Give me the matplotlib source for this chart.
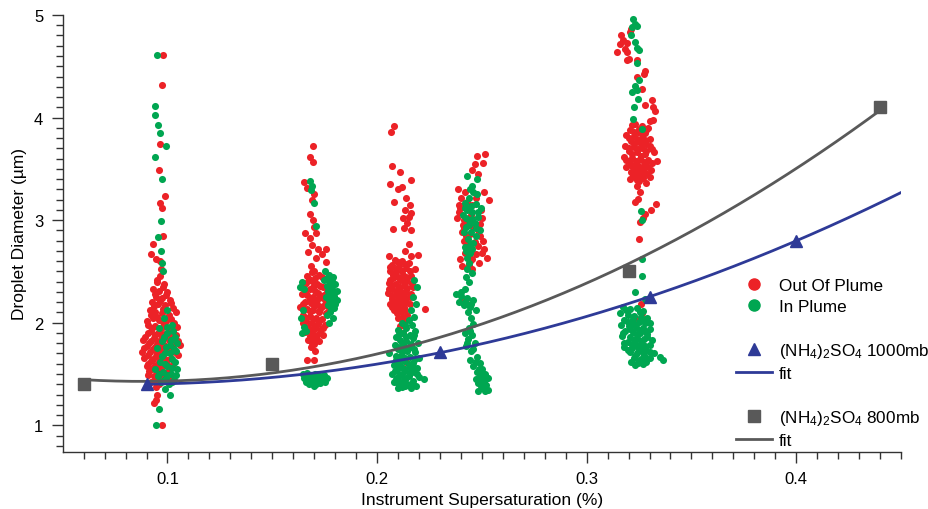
import matplotlib
matplotlib.use('Agg')
import matplotlib.pyplot as plt
from matplotlib.lines import Line2D
import numpy as np

plt.rcParams['font.family'] = ['Liberation Sans', 'DejaVu Sans']
plt.rcParams['mathtext.fontset'] = 'custom'
plt.rcParams['mathtext.rm'] = 'Liberation Sans'
plt.rcParams['mathtext.it'] = 'Liberation Sans:italic'
plt.rcParams['mathtext.bf'] = 'Liberation Sans:bold'

RED   = '#EC2227'
GREEN = '#00A651'
BLUE  = '#2E3A97'
GRAY  = '#595959'
AXC   = '#333333'

# ── droplet data, (supersaturation %, diameter um) ──
out_s010 = [(0.0980,4.61),(0.0976,4.32),(0.0965,3.74),(0.0959,3.49),(0.0989,3.24),(0.0962,3.17),
            (0.0975,3.12),(0.0978,2.85),(0.0929,2.77),(0.0921,2.67),(0.0945,2.62),(0.0962,2.60),
            (0.0968,2.52),(0.0965,2.46),(0.0948,2.40),(0.0985,2.38),(0.0930,2.33),(0.0960,2.31),
            (0.1000,2.30),(0.0945,2.25),(0.0975,2.24),(0.1010,2.22),(0.0925,2.20),(0.0955,2.18),
            (0.0990,2.17),(0.1025,2.14),(0.0915,2.12),(0.0942,2.10),(0.0972,2.09),(0.1005,2.08),
            (0.0930,2.05),(0.0960,2.03),(0.0995,2.02),(0.1030,2.00),(0.0905,1.98),(0.0940,1.97),
            (0.0978,1.96),(0.1012,1.94),(0.0920,1.92),(0.0955,1.90),(0.0990,1.89),(0.1040,1.88),
            (0.0895,1.86),(0.0935,1.85),(0.0968,1.84),(0.1005,1.83),(0.1050,1.82),(0.0912,1.80),
            (0.0948,1.79),(0.0982,1.78),(0.1022,1.77),(0.0888,1.75),(0.0930,1.74),(0.0962,1.73),
            (0.0998,1.72),(0.1035,1.71),(0.0905,1.69),(0.0945,1.68),(0.0978,1.67),(0.1015,1.66),
            (0.0920,1.63),(0.0958,1.62),(0.0992,1.61),(0.1028,1.60),(0.0935,1.57),(0.0970,1.56),
            (0.1005,1.55),(0.0912,1.53),(0.0950,1.51),(0.0985,1.50),(0.0940,1.46),(0.0975,1.44),
            (0.1010,1.47),(0.0960,1.40),(0.0920,1.42),(0.0945,1.37),(0.0952,1.30),(0.0944,1.25),
            (0.0935,1.22),(0.0973,1.00),
            (0.0950,2.42),(0.0980,2.35),(0.0940,2.28),(0.0992,2.27),(0.0965,2.21),(0.1018,2.19),
            (0.0935,2.16),(0.0980,2.13),(0.1040,2.10),(0.0920,2.08),(0.0950,2.06),(0.1015,2.04),
            (0.0978,2.01),(0.0900,2.02),(0.1045,1.96),(0.0925,1.95),(0.0965,1.93),(0.1025,1.91),
            (0.0908,1.90),(0.0940,1.88),(0.0975,1.87),(0.1015,1.86),(0.0885,1.83),(0.0920,1.82),
            (0.0955,1.81),(0.1030,1.80),(0.1060,1.78),(0.0900,1.77),(0.0938,1.76),(0.0970,1.76),
            (0.1008,1.74),(0.0878,1.71),(0.0918,1.71),(0.0952,1.70),(0.1048,1.69),(0.0890,1.66),
            (0.0932,1.65),(0.0965,1.65),(0.1000,1.64),(0.0905,1.60),(0.0945,1.59),(0.0980,1.58),
            (0.0925,1.55),(0.0960,1.53),(0.1000,1.52),(0.0905,1.49),(0.0935,1.48),(0.0968,1.47),
            (0.0900,1.58),(0.0948,1.43)]
in_s010 = [(0.0948,4.61),(0.0938,4.11),(0.0941,4.02),(0.0954,3.93),(0.0963,3.85),(0.0995,3.72),
           (0.0940,3.62),(0.0975,3.40),(0.0970,2.99),(0.0954,2.84),(0.0970,2.70),(0.0972,2.58),
           (0.0980,2.50),(0.1000,2.12),(0.0985,2.05),(0.1020,1.98),(0.0960,1.95),(0.1000,1.90),
           (0.1035,1.86),(0.0975,1.82),(0.1010,1.78),(0.0950,1.75),(0.1040,1.72),(0.0990,1.70),
           (0.1020,1.65),(0.0965,1.62),(0.1000,1.58),(0.1045,1.55),(0.0940,1.55),(0.0980,1.52),
           (0.1015,1.50),(0.0955,1.48),(0.0995,1.46),(0.1030,1.44),(0.0970,1.42),(0.1005,1.40),
           (0.0990,1.35),(0.1010,1.30),(0.0960,1.16),(0.0944,1.00),
           (0.1000,1.96),(0.1025,1.92),(0.0985,1.86),(0.1015,1.83),(0.1045,1.80),(0.0995,1.76),
           (0.1030,1.74),(0.0975,1.68),(0.1010,1.70),(0.1035,1.62),(0.0990,1.60),(0.1020,1.56),
           (0.0960,1.50),(0.1000,1.49),(0.1040,1.49),(0.0985,1.44),(0.1020,1.42)]

out_s017 = [(0.1693,3.72),(0.1680,3.62),(0.1694,3.57),(0.1651,3.37),(0.1665,3.31),(0.1700,3.25),
            (0.1690,3.20),(0.1682,3.06),(0.1693,3.00),(0.1700,2.93),(0.1708,2.87),(0.1655,2.87),
            (0.1680,2.83),(0.1690,2.76),(0.1718,2.72),(0.1755,2.72),(0.1672,2.69),(0.1735,2.67),
            (0.1710,2.63),(0.1755,2.59),(0.1685,2.55),(0.1700,2.50),(0.1725,2.47),(0.1668,2.46),
            (0.1745,2.43),(0.1690,2.41),(0.1715,2.38),(0.1650,2.37),(0.1740,2.35),(0.1680,2.33),
            (0.1705,2.31),(0.1760,2.30),(0.1640,2.28),(0.1668,2.27),(0.1695,2.25),(0.1725,2.24),
            (0.1750,2.22),(0.1655,2.20),(0.1685,2.19),(0.1712,2.18),(0.1740,2.16),(0.1632,2.15),
            (0.1770,2.14),(0.1665,2.13),(0.1695,2.12),(0.1722,2.10),(0.1648,2.08),(0.1680,2.07),
            (0.1708,2.05),(0.1738,2.04),(0.1660,2.02),(0.1690,2.00),(0.1720,1.99),(0.1750,1.98),
            (0.1672,1.96),(0.1700,1.94),(0.1730,1.93),(0.1655,1.91),(0.1685,1.89),(0.1715,1.88),
            (0.1695,1.85),(0.1670,1.83),(0.1725,1.82),(0.1700,1.79),(0.1685,1.76),(0.1706,1.72),
            (0.1667,1.64),(0.1699,1.64),
            (0.1688,2.49),(0.1735,2.45),(0.1675,2.43),(0.1705,2.44),(0.1660,2.39),(0.1728,2.36),
            (0.1695,2.35),(0.1655,2.31),(0.1718,2.29),(0.1745,2.27),(0.1680,2.23),(0.1710,2.21),
            (0.1765,2.20),(0.1645,2.18),(0.1700,2.16),(0.1728,2.13),(0.1680,2.11),(0.1755,2.09),
            (0.1662,2.05),(0.1695,2.04),(0.1725,2.02),(0.1645,2.00),(0.1705,1.97),(0.1740,1.95),
            (0.1665,1.93),(0.1690,1.92),(0.1710,1.84),(0.1680,1.87),(0.1740,1.88),(0.1690,1.80)]
in_s017 = [(0.1679,3.38),(0.1690,3.33),(0.1685,3.29),(0.1700,3.17),(0.1710,2.94),(0.1750,2.50),
           (0.1770,2.47),(0.1790,2.45),(0.1745,2.42),(0.1775,2.40),(0.1800,2.38),(0.1760,2.36),
           (0.1785,2.33),(0.1808,2.31),(0.1770,2.29),(0.1795,2.26),(0.1755,2.25),(0.1810,2.22),
           (0.1780,2.20),(0.1765,2.17),(0.1795,2.14),(0.1775,2.10),(0.1790,2.05),(0.1770,2.00),
           (0.1640,2.40),(0.1630,2.35),(0.1650,2.33),(0.1645,2.12),(0.1635,2.05),(0.1650,1.96),
           (0.1640,1.90),(0.1660,1.92),(0.1645,1.50),(0.1665,1.51),(0.1685,1.49),(0.1705,1.50),
           (0.1725,1.48),(0.1745,1.49),(0.1760,1.46),(0.1650,1.46),(0.1672,1.45),(0.1695,1.44),
           (0.1715,1.45),(0.1738,1.43),(0.1660,1.42),(0.1685,1.41),(0.1708,1.40),(0.1730,1.41),
           (0.1752,1.42),(0.1698,1.38),
           (0.1760,2.44),(0.1785,2.41),(0.1780,2.36),(0.1795,2.30),(0.1765,2.31),(0.1785,2.24),
           (0.1770,2.22),(0.1800,2.18),(0.1780,2.14),(0.1760,2.08),(0.1655,1.48),(0.1690,1.47),
           (0.1720,1.50),(0.1740,1.45),(0.1675,1.40),(0.1720,1.43)]

out_s021 = [(0.2080,3.92),(0.2065,3.86),(0.2071,3.53),(0.2110,3.47),(0.2163,3.39),(0.2060,3.35),
            (0.2100,3.30),(0.2120,3.32),(0.2083,3.18),(0.2140,3.22),(0.2155,3.15),(0.2135,3.10),
            (0.2162,3.07),(0.2122,3.02),(0.2150,3.03),(0.2145,2.97),(0.2128,2.92),(0.2078,2.91),
            (0.2162,2.90),(0.2150,2.77),(0.2135,2.70),(0.2195,2.66),(0.2058,2.65),(0.2160,2.65),
            (0.2085,2.61),(0.2120,2.60),(0.2150,2.58),(0.2070,2.56),(0.2105,2.55),(0.2138,2.53),
            (0.2180,2.52),(0.2060,2.50),(0.2092,2.49),(0.2125,2.47),(0.2160,2.46),(0.2075,2.44),
            (0.2110,2.42),(0.2145,2.41),(0.2055,2.39),(0.2090,2.38),(0.2128,2.36),(0.2170,2.35),
            (0.2070,2.33),(0.2105,2.32),(0.2140,2.30),(0.2050,2.29),(0.2088,2.28),(0.2120,2.26),
            (0.2155,2.25),(0.2072,2.23),(0.2108,2.22),(0.2140,2.20),(0.2060,2.18),(0.2095,2.17),
            (0.2130,2.15),(0.2230,2.13),(0.2080,2.12),(0.2115,2.10),(0.2145,2.08),(0.2100,2.05),
            (0.2130,2.02),(0.2110,1.97),(0.2125,1.90),(0.2140,1.62),
            (0.2100,2.59),(0.2135,2.57),(0.2060,2.54),(0.2090,2.52),(0.2158,2.50),(0.2118,2.50),
            (0.2075,2.47),(0.2140,2.45),(0.2100,2.45),(0.2060,2.42),(0.2128,2.40),(0.2165,2.38),
            (0.2072,2.37),(0.2108,2.35),(0.2145,2.34),(0.2055,2.33),(0.2088,2.31),(0.2122,2.29),
            (0.2160,2.28),(0.2070,2.26),(0.2102,2.25),(0.2138,2.24),(0.2085,2.20),(0.2120,2.19),
            (0.2155,2.18),(0.2070,2.15),(0.2100,2.14),(0.2135,2.12),(0.2095,2.09),(0.2125,2.06)]
in_s021 = [(0.2175,2.42),(0.2190,2.35),(0.2170,2.25),(0.2185,2.18),(0.2160,2.12),(0.2175,2.06),
           (0.2150,2.03),(0.2120,2.00),(0.2165,1.98),(0.2140,1.95),(0.2100,1.93),(0.2180,1.92),
           (0.2125,1.90),(0.2155,1.88),(0.2090,1.86),(0.2170,1.85),(0.2110,1.83),(0.2140,1.82),
           (0.2195,1.80),(0.2085,1.78),(0.2125,1.77),(0.2160,1.76),(0.2100,1.74),(0.2145,1.72),
           (0.2180,1.71),(0.2058,1.70),(0.2115,1.68),(0.2155,1.67),(0.2200,1.66),(0.2090,1.64),
           (0.2130,1.63),(0.2170,1.61),(0.2080,1.59),(0.2110,1.58),(0.2150,1.57),(0.2190,1.56),
           (0.2095,1.54),(0.2135,1.53),(0.2175,1.52),(0.2070,1.50),(0.2110,1.49),(0.2150,1.48),
           (0.2200,1.47),(0.2090,1.45),(0.2130,1.44),(0.2170,1.43),(0.2100,1.41),(0.2145,1.40),
           (0.2120,1.37),(0.2160,1.36),(0.2225,1.45),
           (0.2135,1.98),(0.2105,1.89),(0.2140,1.86),(0.2175,1.88),(0.2120,1.80),(0.2160,1.79),
           (0.2095,1.76),(0.2140,1.75),(0.2175,1.74),(0.2120,1.71),(0.2090,1.68),(0.2135,1.66),
           (0.2180,1.65),(0.2100,1.61),(0.2150,1.60),(0.2125,1.56),(0.2170,1.55),(0.2085,1.53),
           (0.2155,1.51),(0.2120,1.50),(0.2190,1.50),(0.2100,1.47),(0.2140,1.46),(0.2080,1.42),
           (0.2120,1.42),(0.2160,1.40),(0.2185,1.38),(0.2135,1.38),(0.2100,1.36)]

out_s025 = [(0.2513,3.64),(0.2476,3.63),(0.2467,3.55),(0.2505,3.56),(0.2452,3.49),(0.2480,3.45),
            (0.2386,3.30),(0.2420,3.27),(0.2510,3.27),(0.2535,3.20),(0.2390,3.15),(0.2430,3.18),
            (0.2470,3.22),(0.2390,3.08),(0.2382,3.02),(0.2498,3.10),(0.2420,2.98),(0.2490,2.96),
            (0.2460,2.93),(0.2405,2.88),(0.2445,2.86),(0.2492,2.85),(0.2415,2.80),(0.2468,2.79),
            (0.2510,2.72),(0.2435,2.71),(0.2525,2.63),(0.2420,2.68),(0.2470,2.67),(0.2452,2.52),
            (0.2405,2.55),(0.2445,2.60),(0.2485,2.58),(0.2410,2.22),(0.2430,2.18),(0.2395,3.12),
            (0.2450,3.05),(0.2500,3.02),(0.2415,2.92),(0.2480,2.75),
            (0.2400,3.22),(0.2455,3.15),(0.2410,2.95),(0.2480,2.90),(0.2430,2.76),(0.2500,2.68),
            (0.2455,2.62),(0.2395,2.62),(0.2440,2.56),(0.2415,3.00),(0.2505,2.80),(0.2425,2.85)]
in_s025 = [(0.2429,3.43),(0.2476,3.40),(0.2452,3.33),(0.2460,3.27),(0.2440,3.22),(0.2418,3.17),
           (0.2470,3.16),(0.2495,3.12),(0.2430,3.10),(0.2455,3.08),(0.2410,3.05),(0.2480,3.03),
           (0.2440,3.00),(0.2465,2.97),(0.2425,2.93),(0.2490,2.90),(0.2450,2.88),(0.2435,2.82),
           (0.2460,2.78),(0.2420,2.74),(0.2445,2.68),(0.2430,2.63),(0.2455,2.48),(0.2425,2.45),
           (0.2440,2.40),(0.2420,2.33),(0.2375,2.28),(0.2400,2.26),(0.2430,2.24),(0.2460,2.22),
           (0.2390,2.20),(0.2415,2.17),(0.2445,2.15),(0.2470,2.12),(0.2450,2.05),(0.2460,1.99),
           (0.2440,1.95),(0.2420,1.90),(0.2455,1.88),(0.2435,1.84),(0.2465,1.80),(0.2425,1.77),
           (0.2450,1.72),(0.2475,1.67),(0.2445,1.64),(0.2490,1.61),(0.2460,1.58),(0.2500,1.55),
           (0.2475,1.52),(0.2515,1.50),(0.2490,1.47),(0.2530,1.46),(0.2505,1.43),(0.2480,1.41),
           (0.2520,1.39),(0.2498,1.36),(0.2530,1.34),(0.2480,1.33),
           (0.2445,3.30),(0.2475,3.25),(0.2420,3.12),(0.2450,3.14),(0.2480,3.08),(0.2425,3.02),
           (0.2455,3.01),(0.2470,2.92),(0.2440,2.95),(0.2415,2.88),(0.2470,2.85),(0.2445,2.76),
           (0.2425,2.70),(0.2455,2.72),(0.2440,2.58),(0.2430,2.52),(0.2420,2.20),(0.2400,2.30),
           (0.2450,2.18),(0.2435,2.10),(0.2445,1.92),(0.2430,1.80),(0.2460,1.74),(0.2470,1.62),
           (0.2485,1.55),(0.2470,1.45),(0.2510,1.42),(0.2495,1.50),(0.2520,1.47),(0.2505,1.38),
           (0.2515,1.33)]

out_s033 = [(0.3211,4.86),(0.3207,4.83),(0.3166,4.80),(0.3175,4.76),(0.3158,4.72),(0.3192,4.73),
            (0.3181,4.67),(0.3146,4.64),(0.3192,4.64),(0.3204,4.57),(0.3192,4.56),(0.3240,4.56),
            (0.3277,4.45),(0.3272,4.42),(0.3240,4.40),(0.3266,4.28),(0.3312,4.17),(0.3279,4.12),
            (0.3317,4.10),(0.3325,4.06),(0.3317,3.98),(0.3300,3.97),(0.3230,3.94),(0.3262,3.92),
            (0.3295,3.90),(0.3205,3.88),(0.3245,3.86),(0.3280,3.85),(0.3190,3.83),(0.3225,3.82),
            (0.3265,3.80),(0.3300,3.79),(0.3210,3.77),(0.3248,3.76),(0.3285,3.74),(0.3185,3.72),
            (0.3228,3.71),(0.3265,3.70),(0.3310,3.69),(0.3200,3.67),(0.3240,3.66),(0.3278,3.64),
            (0.3180,3.62),(0.3218,3.61),(0.3255,3.60),(0.3295,3.59),(0.3335,3.58),(0.3205,3.56),
            (0.3242,3.55),(0.3280,3.54),(0.3190,3.52),(0.3228,3.51),(0.3265,3.50),(0.3305,3.49),
            (0.3212,3.47),(0.3250,3.46),(0.3290,3.45),(0.3230,3.42),(0.3268,3.41),(0.3205,3.40),
            (0.3250,3.38),(0.3285,3.36),(0.3240,3.33),(0.3255,3.27),(0.3245,3.21),(0.3230,3.18),
            (0.3333,3.16),(0.3308,3.10),(0.3280,3.06),(0.3270,3.02),(0.3255,2.98),(0.3250,2.82),
            (0.3259,2.18),(0.3265,2.09),(0.3233,2.05),
            (0.3215,3.93),(0.3250,3.89),(0.3285,3.88),(0.3225,3.86),(0.3265,3.84),(0.3200,3.80),
            (0.3240,3.79),(0.3280,3.78),(0.3225,3.74),(0.3262,3.73),(0.3300,3.72),(0.3200,3.70),
            (0.3245,3.69),(0.3285,3.67),(0.3320,3.66),(0.3215,3.64),(0.3258,3.63),(0.3190,3.59),
            (0.3235,3.58),(0.3272,3.57),(0.3310,3.56),(0.3218,3.53),(0.3255,3.52),(0.3295,3.52),
            (0.3240,3.48),(0.3275,3.47),(0.3220,3.44),(0.3260,3.43),(0.3300,3.42),(0.3240,3.39)]
in_s033 = [(0.3222,4.96),(0.3230,4.91),(0.3216,4.88),(0.3238,4.89),(0.3211,4.80),(0.3229,4.74),
           (0.3240,4.68),(0.3250,4.66),(0.3238,4.53),(0.3250,4.37),(0.3230,4.31),(0.3240,4.27),
           (0.3216,4.25),(0.3243,4.18),(0.3228,4.10),(0.3220,3.99),(0.3262,3.89),(0.3259,3.09),
           (0.3262,3.00),(0.3264,2.62),(0.3265,2.46),(0.3233,2.30),(0.3279,2.23),(0.3175,2.15),
           (0.3205,2.13),(0.3240,2.14),(0.3270,2.11),(0.3160,2.09),(0.3195,2.08),(0.3225,2.07),
           (0.3260,2.06),(0.3290,2.05),(0.3180,2.03),(0.3215,2.02),(0.3248,2.01),(0.3280,2.00),
           (0.3165,1.98),(0.3200,1.97),(0.3235,1.96),(0.3268,1.95),(0.3300,1.94),(0.3185,1.92),
           (0.3220,1.91),(0.3255,1.90),(0.3290,1.89),(0.3170,1.87),(0.3205,1.86),(0.3240,1.85),
           (0.3275,1.84),(0.3310,1.83),(0.3195,1.81),(0.3230,1.80),(0.3265,1.79),(0.3300,1.78),
           (0.3180,1.76),(0.3215,1.75),(0.3250,1.74),(0.3285,1.73),(0.3205,1.71),(0.3240,1.70),
           (0.3275,1.69),(0.3320,1.70),(0.3225,1.66),(0.3260,1.65),(0.3300,1.66),(0.3350,1.67),
           (0.3210,1.62),(0.3245,1.61),(0.3285,1.62),(0.3230,1.59),(0.3365,1.64),
           (0.3190,2.12),(0.3255,2.10),(0.3220,2.04),(0.3265,2.03),(0.3195,2.01),(0.3300,2.00),
           (0.3230,1.98),(0.3250,1.93),(0.3205,1.94),(0.3280,1.92),(0.3175,1.90),(0.3240,1.88),
           (0.3225,1.83),(0.3290,1.86),(0.3260,1.82),(0.3180,1.80),(0.3215,1.78),(0.3280,1.77),
           (0.3245,1.76),(0.3195,1.73),(0.3265,1.72),(0.3300,1.71),(0.3230,1.68),(0.3285,1.66),
           (0.3250,1.63),(0.3270,1.60)]

# ── (NH4)2SO4 calibration ──
ss_1000 = [0.09, 0.23, 0.33, 0.40]
d_1000  = [1.40, 1.71, 2.25, 2.80]
ss_800  = [0.06, 0.15, 0.32, 0.44]
d_800   = [1.40, 1.60, 2.50, 4.10]

fig = plt.figure(figsize=(9.29, 5.10), dpi=100)
fig.patch.set_facecolor('white')
ax = fig.add_axes([0.0675, 0.1118, 0.9024, 0.8569])

ms = 26
for out_pts, in_pts in [(out_s010, in_s010), (out_s017, in_s017), (out_s021, in_s021),
                        (out_s025, in_s025), (out_s033, in_s033)]:
    o = np.array(out_pts)
    g = np.array(in_pts)
    ax.scatter(o[:, 0], o[:, 1], s=ms, color=RED, linewidths=0, zorder=3)
    ax.scatter(g[:, 0], g[:, 1], s=ms, color=GREEN, linewidths=0, zorder=3)

# quadratic fits
c1000 = np.polyfit(ss_1000, d_1000, 2)
c800  = np.polyfit(ss_800, d_800, 2)
xf1 = np.linspace(min(ss_1000), 0.45, 200)
xf2 = np.linspace(min(ss_800), max(ss_800), 200)
ax.plot(xf1, np.polyval(c1000, xf1), color=BLUE, lw=2, zorder=4)
ax.plot(xf2, np.polyval(c800, xf2), color=GRAY, lw=2, zorder=4)
ax.plot(ss_1000, d_1000, '^', color=BLUE, ms=8, zorder=5)
ax.plot(ss_800, d_800, 's', color=GRAY, ms=8, zorder=5)

ax.set_xlim(0.05, 0.45)
ax.set_ylim(0.74, 5.0)
ax.set_xticks([0.1, 0.2, 0.3, 0.4])
ax.set_xticklabels(['0.1', '0.2', '0.3', '0.4'])
ax.set_xticks(np.arange(0.06, 0.455, 0.01), minor=True)
ax.set_yticks([1, 2, 3, 4, 5])
ax.set_yticks(np.arange(0.8, 5.0, 0.1), minor=True)
ax.spines[['top', 'right']].set_visible(False)
for s in ['left', 'bottom']:
    ax.spines[s].set_color(AXC)
    ax.spines[s].set_linewidth(1.0)
ax.tick_params(which='major', length=8, width=1, color=AXC, labelsize=12, pad=6)
ax.tick_params(which='minor', length=5, width=1, color=AXC)
ax.set_xlabel('Instrument Supersaturation (%)', fontsize=12.5, labelpad=4)
ax.set_ylabel('Droplet Diameter (µm)', fontsize=12.5, labelpad=5)

blank = Line2D([], [], linestyle='none')
handles = [Line2D([], [], marker='o', ls='none', color=RED, ms=8),
           Line2D([], [], marker='o', ls='none', color=GREEN, ms=8),
           blank,
           Line2D([], [], marker='^', ls='none', color=BLUE, ms=8),
           Line2D([], [], color=BLUE, lw=2),
           blank,
           Line2D([], [], marker='s', ls='none', color=GRAY, ms=8),
           Line2D([], [], color=GRAY, lw=2)]
labels = ['Out Of Plume', 'In Plume', '', r'(NH$_4$)$_2$SO$_4$ 1000mb', 'fit', '',
          r'(NH$_4$)$_2$SO$_4$ 800mb', 'fit']
ax.legend(handles, labels, loc='upper left', bbox_to_anchor=(0.795, 0.4135),
          frameon=False, fontsize=12.3, handlelength=2.1, handletextpad=0.4,
          labelspacing=0.35, borderaxespad=0)

plt.savefig('out.png', dpi=100)
plt.close()
